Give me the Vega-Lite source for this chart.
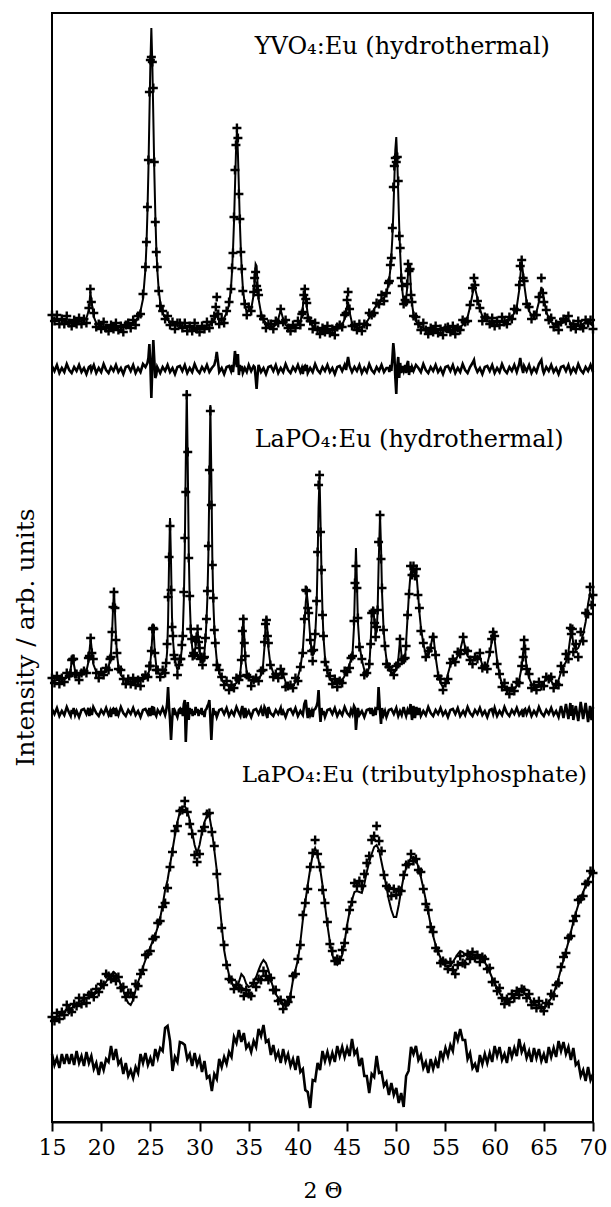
{
"$schema":"https://vega.github.io/schema/vega-lite/v6.json",
"width":541,"height":1109,"autosize":"none",
"padding":{"left":52,"top":13,"right":18,"bottom":85},
"background":"white",
"config":{"view":{"stroke":"black","strokeWidth":2},
"axis":{"labelFont":"DejaVu Serif","titleFont":"DejaVu Serif","labelColor":"black","titleColor":"black","titleFontWeight":"normal","grid":false},
"axisX":{"tickSize":9,"tickWidth":2,"tickColor":"black","domainColor":"black","domainWidth":2,"labelFontSize":22,"titleFontSize":22,"labelPadding":6,"titlePadding":22,"labelFlush":false},
"axisY":{"labels":false,"ticks":false,"domain":false,"titleFontSize":25,"titlePadding":14,"titleY":624}},
"datasets":{
"labels":[{"t":"YVO₄:Eu (hydrothermal)","x":35.6,"y":1075,"g":"a"},{"t":"LaPO₄:Eu (hydrothermal)","x":35.6,"y":682,"g":"a"},{"t":"LaPO₄:Eu (tributylphosphate)","x":34.3,"y":347,"g":"b"}],
"xrd":[
{"p":1,"x":15,"c":804,"o":807,"d":756},{"p":1,"x":15.25,"c":803,"o":801,"d":751},{"p":1,"x":15.5,"c":803,"o":807,"d":757},{"p":1,"x":15.75,"c":802,"o":798,"d":749},{"p":1,"x":16,"c":802,"o":803,"d":754},{"p":1,"x":16.25,"c":801,"o":798,"d":750},{"p":1,"x":16.5,"c":801,"o":806,"d":758},{"p":1,"x":16.75,"c":800,"o":799,"d":752},{"p":1,"x":17,"c":800,"o":796,"d":749},{"p":1,"x":17.25,"c":800,"o":802,"d":755},{"p":1,"x":17.5,"c":800,"o":798,"d":751},{"p":1,"x":17.75,"c":800,"o":804,"d":757},{"p":1,"x":18,"c":801,"o":798,"d":750},{"p":1,"x":18.25,"c":802,"o":803,"d":754},{"p":1,"x":18.5,"c":804,"o":799,"d":748},{"p":1,"x":18.75,"c":812,"o":814,"d":755},{"p":1,"x":18.9,"c":830,"o":833,"d":756},{"p":1,"x":19,"c":822,"o":820,"d":751},{"p":1,"x":19.25,"c":805,"o":809,"d":757},{"p":1,"x":19.5,"c":799,"o":795,"d":749},{"p":1,"x":19.75,"c":797,"o":798,"d":754},{"p":1,"x":20,"c":796,"o":793,"d":750},{"p":1,"x":20.25,"c":795,"o":800,"d":758},{"p":1,"x":20.5,"c":795,"o":794,"d":752},{"p":1,"x":20.75,"c":795,"o":791,"d":749},{"p":1,"x":21,"c":795,"o":797,"d":755},{"p":1,"x":21.25,"c":795,"o":793,"d":751},{"p":1,"x":21.5,"c":795,"o":799,"d":757},{"p":1,"x":21.75,"c":795,"o":792,"d":750},{"p":1,"x":22,"c":795,"o":796,"d":754},{"p":1,"x":22.25,"c":795,"o":790,"d":748},{"p":1,"x":22.5,"c":795,"o":797,"d":755},{"p":1,"x":22.75,"c":796,"o":799,"d":756},{"p":1,"x":23,"c":796,"o":794,"d":751},{"p":1,"x":23.25,"c":798,"o":802,"d":757},{"p":1,"x":23.5,"c":801,"o":797,"d":749},{"p":1,"x":23.75,"c":805,"o":806,"d":754},{"p":1,"x":24,"c":811,"o":808,"d":750},{"p":1,"x":24.25,"c":823,"o":828,"d":758},{"p":1,"x":24.5,"c":853,"o":855,"d":755},{"p":1,"x":24.6,"c":876,"o":880,"d":757},{"p":1,"x":24.7,"c":909,"o":915,"d":759},{"p":1,"x":24.8,"c":951,"o":962,"d":764},{"p":1,"x":24.9,"c":1005,"o":1030,"d":778},{"p":1,"x":25,"c":1058,"o":1062,"d":757},{"p":1,"x":25.1,"c":1094,"o":1065,"d":724},{"p":1,"x":25.2,"c":1058,"o":1060,"d":755},{"p":1,"x":25.3,"c":1005,"o":1034,"d":782},{"p":1,"x":25.4,"c":951,"o":960,"d":762},{"p":1,"x":25.5,"c":909,"o":900,"d":744},{"p":1,"x":25.6,"c":876,"o":870,"d":747},{"p":1,"x":25.7,"c":853,"o":855,"d":755},{"p":1,"x":25.85,"c":832,"o":831,"d":752},{"p":1,"x":26,"c":820,"o":816,"d":749},{"p":1,"x":26.25,"c":809,"o":811,"d":755},{"p":1,"x":26.5,"c":805,"o":803,"d":751},{"p":1,"x":26.75,"c":802,"o":806,"d":757},{"p":1,"x":27,"c":800,"o":797,"d":750},{"p":1,"x":27.25,"c":799,"o":800,"d":754},{"p":1,"x":27.5,"c":798,"o":793,"d":748},{"p":1,"x":27.75,"c":797,"o":799,"d":755},{"p":1,"x":28,"c":796,"o":799,"d":756},{"p":1,"x":28.25,"c":796,"o":794,"d":751},{"p":1,"x":28.5,"c":795,"o":799,"d":757},{"p":1,"x":28.75,"c":795,"o":791,"d":749},{"p":1,"x":29,"c":795,"o":796,"d":754},{"p":1,"x":29.25,"c":794,"o":791,"d":750},{"p":1,"x":29.5,"c":794,"o":799,"d":758},{"p":1,"x":29.75,"c":794,"o":793,"d":752},{"p":1,"x":30,"c":794,"o":790,"d":749},{"p":1,"x":30.25,"c":794,"o":796,"d":755},{"p":1,"x":30.5,"c":795,"o":793,"d":751},{"p":1,"x":30.75,"c":796,"o":800,"d":757},{"p":1,"x":31,"c":797,"o":794,"d":750},{"p":1,"x":31.25,"c":799,"o":800,"d":754},{"p":1,"x":31.5,"c":802,"o":806,"d":757},{"p":1,"x":31.65,"c":805,"o":815,"d":763},{"p":1,"x":31.75,"c":808,"o":825,"d":770},{"p":1,"x":31.9,"c":803,"o":808,"d":758},{"p":1,"x":32,"c":801,"o":798,"d":750},{"p":1,"x":32.25,"c":802,"o":803,"d":754},{"p":1,"x":32.5,"c":804,"o":799,"d":748},{"p":1,"x":32.75,"c":809,"o":811,"d":755},{"p":1,"x":33,"c":817,"o":820,"d":756},{"p":1,"x":33.2,"c":835,"o":833,"d":751},{"p":1,"x":33.3,"c":850,"o":854,"d":757},{"p":1,"x":33.4,"c":872,"o":869,"d":750},{"p":1,"x":33.5,"c":899,"o":905,"d":759},{"p":1,"x":33.6,"c":934,"o":952,"d":771},{"p":1,"x":33.7,"c":969,"o":977,"d":761},{"p":1,"x":33.8,"c":992,"o":994,"d":755},{"p":1,"x":33.9,"c":969,"o":984,"d":768},{"p":1,"x":34,"c":934,"o":928,"d":747},{"p":1,"x":34.1,"c":899,"o":903,"d":757},{"p":1,"x":34.2,"c":872,"o":870,"d":751},{"p":1,"x":34.3,"c":850,"o":853,"d":756},{"p":1,"x":34.4,"c":835,"o":831,"d":749},{"p":1,"x":34.6,"c":817,"o":818,"d":754},{"p":1,"x":34.8,"c":810,"o":807,"d":750},{"p":1,"x":35,"c":811,"o":815,"d":757},{"p":1,"x":35.25,"c":813,"o":811,"d":751},{"p":1,"x":35.5,"c":827,"o":830,"d":756},{"p":1,"x":35.6,"c":842,"o":844,"d":755},{"p":1,"x":35.7,"c":858,"o":850,"d":745},{"p":1,"x":35.8,"c":856,"o":836,"d":733},{"p":1,"x":35.9,"c":838,"o":832,"d":747},{"p":1,"x":36,"c":823,"o":827,"d":757},{"p":1,"x":36.25,"c":809,"o":806,"d":750},{"p":1,"x":36.5,"c":802,"o":803,"d":754},{"p":1,"x":36.75,"c":799,"o":794,"d":748},{"p":1,"x":37,"c":796,"o":798,"d":755},{"p":1,"x":37.25,"c":795,"o":798,"d":756},{"p":1,"x":37.5,"c":795,"o":793,"d":751},{"p":1,"x":37.75,"c":797,"o":801,"d":757},{"p":1,"x":38,"c":803,"o":799,"d":749},{"p":1,"x":38.25,"c":812,"o":813,"d":754},{"p":1,"x":38.5,"c":803,"o":800,"d":750},{"p":1,"x":38.75,"c":797,"o":802,"d":758},{"p":1,"x":39,"c":795,"o":794,"d":752},{"p":1,"x":39.25,"c":795,"o":791,"d":749},{"p":1,"x":39.5,"c":795,"o":797,"d":755},{"p":1,"x":39.75,"c":796,"o":794,"d":751},{"p":1,"x":40,"c":797,"o":801,"d":757},{"p":1,"x":40.25,"c":800,"o":797,"d":750},{"p":1,"x":40.4,"c":807,"o":808,"d":754},{"p":1,"x":40.5,"c":815,"o":810,"d":748},{"p":1,"x":40.6,"c":825,"o":827,"d":755},{"p":1,"x":40.7,"c":830,"o":833,"d":756},{"p":1,"x":40.8,"c":825,"o":823,"d":751},{"p":1,"x":40.9,"c":815,"o":819,"d":757},{"p":1,"x":41,"c":808,"o":804,"d":749},{"p":1,"x":41.25,"c":800,"o":801,"d":754},{"p":1,"x":41.5,"c":796,"o":793,"d":750},{"p":1,"x":41.75,"c":794,"o":799,"d":758},{"p":1,"x":42,"c":793,"o":792,"d":752},{"p":1,"x":42.25,"c":792,"o":788,"d":749},{"p":1,"x":42.5,"c":792,"o":794,"d":755},{"p":1,"x":42.75,"c":792,"o":790,"d":751},{"p":1,"x":43,"c":792,"o":796,"d":757},{"p":1,"x":43.25,"c":792,"o":789,"d":750},{"p":1,"x":43.5,"c":792,"o":793,"d":754},{"p":1,"x":43.75,"c":792,"o":787,"d":748},{"p":1,"x":44,"c":793,"o":795,"d":755},{"p":1,"x":44.25,"c":794,"o":797,"d":756},{"p":1,"x":44.5,"c":797,"o":795,"d":751},{"p":1,"x":44.75,"c":803,"o":807,"d":757},{"p":1,"x":44.9,"c":810,"o":809,"d":752},{"p":1,"x":45,"c":816,"o":822,"d":759},{"p":1,"x":45.1,"c":820,"o":830,"d":765},{"p":1,"x":45.25,"c":810,"o":813,"d":756},{"p":1,"x":45.5,"c":799,"o":796,"d":750},{"p":1,"x":45.75,"c":795,"o":797,"d":755},{"p":1,"x":46,"c":794,"o":792,"d":751},{"p":1,"x":46.25,"c":794,"o":798,"d":757},{"p":1,"x":46.5,"c":795,"o":791,"d":749},{"p":1,"x":46.75,"c":797,"o":798,"d":754},{"p":1,"x":47,"c":800,"o":797,"d":750},{"p":1,"x":47.25,"c":804,"o":809,"d":758},{"p":1,"x":47.5,"c":808,"o":807,"d":752},{"p":1,"x":47.75,"c":813,"o":809,"d":749},{"p":1,"x":48,"c":817,"o":819,"d":755},{"p":1,"x":48.25,"c":820,"o":818,"d":751},{"p":1,"x":48.5,"c":823,"o":827,"d":757},{"p":1,"x":48.75,"c":824,"o":821,"d":750},{"p":1,"x":49,"c":828,"o":829,"d":754},{"p":1,"x":49.2,"c":838,"o":839,"d":754},{"p":1,"x":49.3,"c":844,"o":841,"d":750},{"p":1,"x":49.4,"c":853,"o":857,"d":757},{"p":1,"x":49.5,"c":866,"o":864,"d":751},{"p":1,"x":49.6,"c":884,"o":894,"d":763},{"p":1,"x":49.7,"c":909,"o":935,"d":779},{"p":1,"x":49.8,"c":941,"o":956,"d":768},{"p":1,"x":49.9,"c":972,"o":964,"d":745},{"p":1,"x":50,"c":985,"o":960,"d":728},{"p":1,"x":50.1,"c":962,"o":965,"d":756},{"p":1,"x":50.2,"c":929,"o":941,"d":765},{"p":1,"x":50.3,"c":895,"o":886,"d":744},{"p":1,"x":50.4,"c":868,"o":874,"d":759},{"p":1,"x":50.5,"c":848,"o":844,"d":749},{"p":1,"x":50.6,"c":833,"o":836,"d":756},{"p":1,"x":50.75,"c":820,"o":818,"d":751},{"p":1,"x":50.9,"c":818,"o":822,"d":757},{"p":1,"x":51,"c":824,"o":820,"d":749},{"p":1,"x":51.1,"c":833,"o":838,"d":758},{"p":1,"x":51.2,"c":850,"o":858,"d":761},{"p":1,"x":51.3,"c":857,"o":851,"d":747},{"p":1,"x":51.4,"c":850,"o":853,"d":756},{"p":1,"x":51.5,"c":830,"o":827,"d":750},{"p":1,"x":51.6,"c":818,"o":820,"d":755},{"p":1,"x":51.75,"c":808,"o":806,"d":751},{"p":1,"x":52,"c":801,"o":805,"d":757},{"p":1,"x":52.25,"c":797,"o":798,"d":754},{"p":1,"x":52.5,"c":795,"o":792,"d":750},{"p":1,"x":52.75,"c":794,"o":799,"d":758},{"p":1,"x":53,"c":793,"o":792,"d":752},{"p":1,"x":53.25,"c":792,"o":788,"d":749},{"p":1,"x":53.5,"c":792,"o":794,"d":755},{"p":1,"x":53.75,"c":792,"o":790,"d":751},{"p":1,"x":54,"c":792,"o":796,"d":757},{"p":1,"x":54.25,"c":792,"o":789,"d":750},{"p":1,"x":54.5,"c":792,"o":793,"d":754},{"p":1,"x":54.75,"c":792,"o":787,"d":748},{"p":1,"x":55,"c":792,"o":794,"d":755},{"p":1,"x":55.25,"c":792,"o":795,"d":756},{"p":1,"x":55.5,"c":792,"o":790,"d":751},{"p":1,"x":55.75,"c":792,"o":796,"d":757},{"p":1,"x":56,"c":792,"o":788,"d":749},{"p":1,"x":56.25,"c":793,"o":794,"d":754},{"p":1,"x":56.5,"c":795,"o":792,"d":750},{"p":1,"x":56.75,"c":797,"o":802,"d":758},{"p":1,"x":57,"c":801,"o":800,"d":752},{"p":1,"x":57.25,"c":805,"o":801,"d":749},{"p":1,"x":57.5,"c":815,"o":817,"d":755},{"p":1,"x":57.75,"c":828,"o":834,"d":759},{"p":1,"x":57.9,"c":835,"o":844,"d":762},{"p":1,"x":58,"c":834,"o":837,"d":756},{"p":1,"x":58.25,"c":824,"o":821,"d":750},{"p":1,"x":58.5,"c":813,"o":814,"d":754},{"p":1,"x":58.75,"c":806,"o":801,"d":748},{"p":1,"x":59,"c":803,"o":805,"d":755},{"p":1,"x":59.25,"c":801,"o":804,"d":756},{"p":1,"x":59.5,"c":800,"o":798,"d":751},{"p":1,"x":59.75,"c":800,"o":804,"d":757},{"p":1,"x":60,"c":800,"o":796,"d":749},{"p":1,"x":60.25,"c":800,"o":801,"d":754},{"p":1,"x":60.5,"c":800,"o":797,"d":750},{"p":1,"x":60.75,"c":800,"o":805,"d":758},{"p":1,"x":61,"c":801,"o":800,"d":752},{"p":1,"x":61.25,"c":802,"o":798,"d":749},{"p":1,"x":61.5,"c":803,"o":805,"d":755},{"p":1,"x":61.75,"c":805,"o":803,"d":751},{"p":1,"x":62,"c":809,"o":813,"d":757},{"p":1,"x":62.25,"c":815,"o":812,"d":750},{"p":1,"x":62.5,"c":832,"o":837,"d":758},{"p":1,"x":62.6,"c":845,"o":856,"d":764},{"p":1,"x":62.75,"c":860,"o":862,"d":755},{"p":1,"x":62.9,"c":848,"o":844,"d":749},{"p":1,"x":63,"c":838,"o":841,"d":756},{"p":1,"x":63.25,"c":820,"o":818,"d":751},{"p":1,"x":63.5,"c":811,"o":815,"d":757},{"p":1,"x":63.75,"c":807,"o":803,"d":749},{"p":1,"x":64,"c":806,"o":807,"d":754},{"p":1,"x":64.25,"c":810,"o":807,"d":750},{"p":1,"x":64.5,"c":820,"o":825,"d":758},{"p":1,"x":64.75,"c":835,"o":844,"d":762},{"p":1,"x":64.9,"c":830,"o":829,"d":752},{"p":1,"x":65,"c":824,"o":820,"d":749},{"p":1,"x":65.25,"c":810,"o":812,"d":755},{"p":1,"x":65.5,"c":804,"o":802,"d":751},{"p":1,"x":65.75,"c":800,"o":804,"d":757},{"p":1,"x":66,"c":798,"o":795,"d":750},{"p":1,"x":66.25,"c":797,"o":798,"d":754},{"p":1,"x":66.5,"c":797,"o":792,"d":748},{"p":1,"x":66.75,"c":798,"o":800,"d":755},{"p":1,"x":67,"c":800,"o":803,"d":756},{"p":1,"x":67.25,"c":803,"o":801,"d":751},{"p":1,"x":67.5,"c":802,"o":806,"d":757},{"p":1,"x":67.75,"c":799,"o":795,"d":749},{"p":1,"x":68,"c":797,"o":798,"d":754},{"p":1,"x":68.25,"c":796,"o":793,"d":750},{"p":1,"x":68.5,"c":796,"o":801,"d":758},{"p":1,"x":68.75,"c":797,"o":796,"d":752},{"p":1,"x":69,"c":798,"o":794,"d":749},{"p":1,"x":69.25,"c":800,"o":802,"d":755},{"p":1,"x":69.5,"c":801,"o":799,"d":751},{"p":1,"x":69.75,"c":798,"o":802,"d":757},{"p":1,"x":70,"c":796,"o":793,"d":750},
{"p":2,"x":15,"c":441,"o":444,"d":413},{"p":2,"x":15.25,"c":441,"o":439,"d":408},{"p":2,"x":15.5,"c":442,"o":446,"d":414},{"p":2,"x":15.75,"c":442,"o":438,"d":406},{"p":2,"x":16,"c":443,"o":444,"d":411},{"p":2,"x":16.25,"c":443,"o":440,"d":407},{"p":2,"x":16.5,"c":444,"o":449,"d":415},{"p":2,"x":16.75,"c":447,"o":446,"d":409},{"p":2,"x":16.9,"c":453,"o":449,"d":406},{"p":2,"x":17,"c":460,"o":462,"d":412},{"p":2,"x":17.1,"c":465,"o":463,"d":408},{"p":2,"x":17.2,"c":459,"o":463,"d":414},{"p":2,"x":17.35,"c":451,"o":448,"d":407},{"p":2,"x":17.5,"c":447,"o":448,"d":411},{"p":2,"x":17.75,"c":447,"o":442,"d":405},{"p":2,"x":18,"c":447,"o":449,"d":412},{"p":2,"x":18.25,"c":448,"o":451,"d":413},{"p":2,"x":18.5,"c":451,"o":449,"d":408},{"p":2,"x":18.7,"c":460,"o":464,"d":414},{"p":2,"x":18.8,"c":470,"o":466,"d":406},{"p":2,"x":18.93,"c":483,"o":484,"d":411},{"p":2,"x":19.05,"c":472,"o":469,"d":407},{"p":2,"x":19.2,"c":458,"o":463,"d":415},{"p":2,"x":19.5,"c":450,"o":449,"d":409},{"p":2,"x":19.75,"c":448,"o":444,"d":406},{"p":2,"x":20,"c":448,"o":450,"d":412},{"p":2,"x":20.25,"c":449,"o":447,"d":408},{"p":2,"x":20.5,"c":450,"o":454,"d":414},{"p":2,"x":20.75,"c":455,"o":452,"d":407},{"p":2,"x":20.9,"c":462,"o":463,"d":411},{"p":2,"x":21,"c":470,"o":465,"d":405},{"p":2,"x":21.1,"c":488,"o":490,"d":412},{"p":2,"x":21.2,"c":512,"o":515,"d":413},{"p":2,"x":21.3,"c":532,"o":530,"d":408},{"p":2,"x":21.4,"c":510,"o":514,"d":414},{"p":2,"x":21.5,"c":486,"o":482,"d":406},{"p":2,"x":21.6,"c":468,"o":469,"d":411},{"p":2,"x":21.75,"c":456,"o":453,"d":407},{"p":2,"x":22,"c":447,"o":452,"d":415},{"p":2,"x":22.25,"c":444,"o":443,"d":409},{"p":2,"x":22.5,"c":442,"o":438,"d":406},{"p":2,"x":22.75,"c":441,"o":443,"d":412},{"p":2,"x":23,"c":440,"o":438,"d":408},{"p":2,"x":23.25,"c":440,"o":444,"d":414},{"p":2,"x":23.5,"c":440,"o":437,"d":407},{"p":2,"x":23.75,"c":441,"o":442,"d":411},{"p":2,"x":24,"c":441,"o":436,"d":405},{"p":2,"x":24.25,"c":442,"o":444,"d":412},{"p":2,"x":24.5,"c":444,"o":447,"d":413},{"p":2,"x":24.75,"c":447,"o":445,"d":408},{"p":2,"x":24.9,"c":452,"o":456,"d":414},{"p":2,"x":25,"c":460,"o":456,"d":406},{"p":2,"x":25.1,"c":470,"o":471,"d":411},{"p":2,"x":25.2,"c":487,"o":493,"d":416},{"p":2,"x":25.27,"c":497,"o":494,"d":407},{"p":2,"x":25.35,"c":488,"o":493,"d":415},{"p":2,"x":25.45,"c":470,"o":469,"d":409},{"p":2,"x":25.6,"c":456,"o":452,"d":406},{"p":2,"x":25.75,"c":450,"o":452,"d":412},{"p":2,"x":26,"c":447,"o":445,"d":408},{"p":2,"x":26.25,"c":448,"o":452,"d":414},{"p":2,"x":26.5,"c":452,"o":449,"d":407},{"p":2,"x":26.6,"c":458,"o":459,"d":411},{"p":2,"x":26.7,"c":470,"o":478,"d":418},{"p":2,"x":26.8,"c":500,"o":525,"d":435},{"p":2,"x":26.9,"c":560,"o":565,"d":415},{"p":2,"x":27,"c":604,"o":596,"d":402},{"p":2,"x":27.1,"c":560,"o":532,"d":382},{"p":2,"x":27.2,"c":505,"o":495,"d":400},{"p":2,"x":27.3,"c":482,"o":486,"d":414},{"p":2,"x":27.4,"c":470,"o":467,"d":407},{"p":2,"x":27.5,"c":462,"o":463,"d":411},{"p":2,"x":27.75,"c":452,"o":447,"d":405},{"p":2,"x":27.9,"c":455,"o":457,"d":412},{"p":2,"x":28,"c":460,"o":463,"d":413},{"p":2,"x":28.1,"c":465,"o":463,"d":408},{"p":2,"x":28.2,"c":473,"o":477,"d":414},{"p":2,"x":28.3,"c":490,"o":486,"d":406},{"p":2,"x":28.4,"c":522,"o":530,"d":418},{"p":2,"x":28.5,"c":572,"o":584,"d":422},{"p":2,"x":28.6,"c":660,"o":630,"d":380},{"p":2,"x":28.7,"c":732,"o":727,"d":405},{"p":2,"x":28.8,"c":660,"o":670,"d":420},{"p":2,"x":28.9,"c":572,"o":564,"d":402},{"p":2,"x":29,"c":522,"o":526,"d":414},{"p":2,"x":29.1,"c":495,"o":493,"d":408},{"p":2,"x":29.2,"c":480,"o":483,"d":413},{"p":2,"x":29.3,"c":470,"o":466,"d":406},{"p":2,"x":29.4,"c":468,"o":469,"d":411},{"p":2,"x":29.5,"c":470,"o":467,"d":407},{"p":2,"x":29.6,"c":476,"o":481,"d":415},{"p":2,"x":29.7,"c":486,"o":485,"d":409},{"p":2,"x":29.8,"c":490,"o":493,"d":413},{"p":2,"x":29.9,"c":484,"o":480,"d":406},{"p":2,"x":30,"c":472,"o":474,"d":412},{"p":2,"x":30.1,"c":465,"o":463,"d":408},{"p":2,"x":30.2,"c":461,"o":465,"d":414},{"p":2,"x":30.3,"c":460,"o":457,"d":407},{"p":2,"x":30.4,"c":463,"o":464,"d":411},{"p":2,"x":30.5,"c":470,"o":465,"d":405},{"p":2,"x":30.6,"c":482,"o":484,"d":412},{"p":2,"x":30.7,"c":500,"o":503,"d":413},{"p":2,"x":30.8,"c":525,"o":531,"d":416},{"p":2,"x":30.9,"c":568,"o":576,"d":418},{"p":2,"x":31,"c":640,"o":652,"d":422},{"p":2,"x":31.1,"c":717,"o":711,"d":404},{"p":2,"x":31.2,"c":645,"o":617,"d":382},{"p":2,"x":31.3,"c":565,"o":557,"d":402},{"p":2,"x":31.4,"c":520,"o":524,"d":414},{"p":2,"x":31.5,"c":495,"o":492,"d":407},{"p":2,"x":31.6,"c":478,"o":479,"d":411},{"p":2,"x":31.75,"c":462,"o":457,"d":405},{"p":2,"x":32,"c":450,"o":452,"d":412},{"p":2,"x":32.25,"c":442,"o":445,"d":413},{"p":2,"x":32.5,"c":439,"o":437,"d":408},{"p":2,"x":32.75,"c":437,"o":441,"d":414},{"p":2,"x":33,"c":436,"o":432,"d":406},{"p":2,"x":33.25,"c":436,"o":437,"d":411},{"p":2,"x":33.5,"c":437,"o":434,"d":407},{"p":2,"x":33.75,"c":439,"o":444,"d":415},{"p":2,"x":34,"c":443,"o":442,"d":409},{"p":2,"x":34.15,"c":450,"o":446,"d":406},{"p":2,"x":34.25,"c":460,"o":462,"d":412},{"p":2,"x":34.35,"c":485,"o":491,"d":416},{"p":2,"x":34.45,"c":505,"o":503,"d":408},{"p":2,"x":34.55,"c":485,"o":479,"d":404},{"p":2,"x":34.65,"c":462,"o":466,"d":414},{"p":2,"x":34.8,"c":450,"o":447,"d":407},{"p":2,"x":35,"c":444,"o":445,"d":411},{"p":2,"x":35.25,"c":441,"o":436,"d":405},{"p":2,"x":35.5,"c":440,"o":442,"d":412},{"p":2,"x":35.75,"c":441,"o":444,"d":413},{"p":2,"x":36,"c":443,"o":441,"d":408},{"p":2,"x":36.25,"c":447,"o":451,"d":414},{"p":2,"x":36.45,"c":456,"o":452,"d":406},{"p":2,"x":36.6,"c":475,"o":480,"d":415},{"p":2,"x":36.7,"c":495,"o":498,"d":413},{"p":2,"x":36.8,"c":505,"o":502,"d":407},{"p":2,"x":36.9,"c":492,"o":486,"d":404},{"p":2,"x":37,"c":474,"o":479,"d":415},{"p":2,"x":37.2,"c":458,"o":457,"d":409},{"p":2,"x":37.5,"c":449,"o":445,"d":406},{"p":2,"x":37.75,"c":446,"o":448,"d":412},{"p":2,"x":38,"c":446,"o":444,"d":408},{"p":2,"x":38.25,"c":449,"o":453,"d":414},{"p":2,"x":38.35,"c":451,"o":448,"d":407},{"p":2,"x":38.5,"c":447,"o":448,"d":411},{"p":2,"x":38.75,"c":440,"o":435,"d":405},{"p":2,"x":39,"c":434,"o":436,"d":412},{"p":2,"x":39.25,"c":434,"o":437,"d":413},{"p":2,"x":39.5,"c":436,"o":434,"d":408},{"p":2,"x":39.75,"c":440,"o":444,"d":414},{"p":2,"x":40,"c":445,"o":441,"d":406},{"p":2,"x":40.25,"c":454,"o":455,"d":411},{"p":2,"x":40.5,"c":472,"o":469,"d":407},{"p":2,"x":40.65,"c":495,"o":503,"d":418},{"p":2,"x":40.8,"c":520,"o":532,"d":422},{"p":2,"x":40.9,"c":529,"o":531,"d":412},{"p":2,"x":41,"c":520,"o":514,"d":404},{"p":2,"x":41.1,"c":505,"o":509,"d":414},{"p":2,"x":41.25,"c":485,"o":482,"d":407},{"p":2,"x":41.4,"c":470,"o":471,"d":411},{"p":2,"x":41.5,"c":466,"o":461,"d":405},{"p":2,"x":41.6,"c":470,"o":472,"d":412},{"p":2,"x":41.75,"c":485,"o":488,"d":413},{"p":2,"x":41.9,"c":515,"o":521,"d":416},{"p":2,"x":42,"c":560,"o":570,"d":420},{"p":2,"x":42.1,"c":615,"o":637,"d":432},{"p":2,"x":42.2,"c":645,"o":647,"d":412},{"p":2,"x":42.3,"c":600,"o":590,"d":400},{"p":2,"x":42.4,"c":548,"o":552,"d":414},{"p":2,"x":42.5,"c":510,"o":507,"d":407},{"p":2,"x":42.6,"c":485,"o":486,"d":411},{"p":2,"x":42.75,"c":465,"o":460,"d":405},{"p":2,"x":43,"c":450,"o":452,"d":412},{"p":2,"x":43.25,"c":443,"o":446,"d":413},{"p":2,"x":43.5,"c":440,"o":438,"d":408},{"p":2,"x":43.75,"c":439,"o":443,"d":414},{"p":2,"x":44,"c":439,"o":435,"d":406},{"p":2,"x":44.25,"c":440,"o":441,"d":411},{"p":2,"x":44.5,"c":442,"o":439,"d":407},{"p":2,"x":44.75,"c":446,"o":451,"d":415},{"p":2,"x":45,"c":451,"o":450,"d":409},{"p":2,"x":45.25,"c":458,"o":454,"d":406},{"p":2,"x":45.4,"c":462,"o":464,"d":412},{"p":2,"x":45.55,"c":468,"o":466,"d":408},{"p":2,"x":45.7,"c":495,"o":501,"d":416},{"p":2,"x":45.8,"c":535,"o":539,"d":414},{"p":2,"x":45.9,"c":574,"o":556,"d":392},{"p":2,"x":46,"c":540,"o":534,"d":404},{"p":2,"x":46.1,"c":500,"o":504,"d":414},{"p":2,"x":46.25,"c":478,"o":475,"d":407},{"p":2,"x":46.5,"c":462,"o":463,"d":411},{"p":2,"x":46.75,"c":452,"o":447,"d":405},{"p":2,"x":47,"c":447,"o":449,"d":412},{"p":2,"x":47.25,"c":455,"o":458,"d":413},{"p":2,"x":47.4,"c":480,"o":478,"d":408},{"p":2,"x":47.5,"c":505,"o":509,"d":414},{"p":2,"x":47.65,"c":515,"o":511,"d":406},{"p":2,"x":47.8,"c":498,"o":499,"d":411},{"p":2,"x":47.9,"c":488,"o":485,"d":407},{"p":2,"x":48,"c":490,"o":495,"d":415},{"p":2,"x":48.1,"c":510,"o":512,"d":412},{"p":2,"x":48.2,"c":555,"o":580,"d":435},{"p":2,"x":48.35,"c":607,"o":607,"d":410},{"p":2,"x":48.45,"c":575,"o":563,"d":398},{"p":2,"x":48.55,"c":530,"o":534,"d":414},{"p":2,"x":48.7,"c":495,"o":492,"d":407},{"p":2,"x":48.85,"c":475,"o":476,"d":411},{"p":2,"x":49,"c":463,"o":458,"d":405},{"p":2,"x":49.25,"c":453,"o":455,"d":412},{"p":2,"x":49.5,"c":449,"o":452,"d":413},{"p":2,"x":49.75,"c":449,"o":447,"d":408},{"p":2,"x":50,"c":452,"o":456,"d":414},{"p":2,"x":50.2,"c":462,"o":458,"d":406},{"p":2,"x":50.38,"c":482,"o":483,"d":411},{"p":2,"x":50.55,"c":465,"o":462,"d":407},{"p":2,"x":50.75,"c":458,"o":463,"d":415},{"p":2,"x":50.9,"c":465,"o":464,"d":409},{"p":2,"x":51,"c":480,"o":476,"d":406},{"p":2,"x":51.15,"c":505,"o":507,"d":412},{"p":2,"x":51.3,"c":530,"o":528,"d":408},{"p":2,"x":51.45,"c":548,"o":556,"d":418},{"p":2,"x":51.6,"c":555,"o":547,"d":402},{"p":2,"x":51.75,"c":550,"o":556,"d":416},{"p":2,"x":51.9,"c":552,"o":546,"d":404},{"p":2,"x":52.05,"c":548,"o":553,"d":415},{"p":2,"x":52.2,"c":530,"o":527,"d":407},{"p":2,"x":52.35,"c":510,"o":514,"d":414},{"p":2,"x":52.5,"c":495,"o":491,"d":406},{"p":2,"x":52.75,"c":478,"o":479,"d":411},{"p":2,"x":53,"c":468,"o":465,"d":407},{"p":2,"x":53.25,"c":466,"o":471,"d":415},{"p":2,"x":53.5,"c":475,"o":474,"d":409},{"p":2,"x":53.75,"c":489,"o":485,"d":406},{"p":2,"x":54,"c":465,"o":467,"d":412},{"p":2,"x":54.25,"c":448,"o":446,"d":408},{"p":2,"x":54.5,"c":439,"o":443,"d":414},{"p":2,"x":54.75,"c":435,"o":432,"d":407},{"p":2,"x":55,"c":438,"o":439,"d":411},{"p":2,"x":55.25,"c":448,"o":443,"d":405},{"p":2,"x":55.5,"c":457,"o":459,"d":412},{"p":2,"x":55.75,"c":460,"o":463,"d":413},{"p":2,"x":56,"c":462,"o":460,"d":408},{"p":2,"x":56.25,"c":466,"o":470,"d":414},{"p":2,"x":56.5,"c":472,"o":468,"d":406},{"p":2,"x":56.8,"c":484,"o":485,"d":411},{"p":2,"x":57,"c":475,"o":472,"d":407},{"p":2,"x":57.25,"c":466,"o":471,"d":415},{"p":2,"x":57.5,"c":463,"o":462,"d":409},{"p":2,"x":57.75,"c":462,"o":458,"d":406},{"p":2,"x":58,"c":463,"o":465,"d":412},{"p":2,"x":58.25,"c":465,"o":463,"d":408},{"p":2,"x":58.5,"c":465,"o":469,"d":414},{"p":2,"x":58.75,"c":457,"o":454,"d":407},{"p":2,"x":59,"c":455,"o":456,"d":411},{"p":2,"x":59.25,"c":458,"o":453,"d":405},{"p":2,"x":59.5,"c":468,"o":470,"d":412},{"p":2,"x":59.7,"c":480,"o":483,"d":413},{"p":2,"x":59.85,"c":492,"o":490,"d":408},{"p":2,"x":60,"c":482,"o":486,"d":414},{"p":2,"x":60.25,"c":462,"o":458,"d":406},{"p":2,"x":60.5,"c":447,"o":448,"d":411},{"p":2,"x":60.75,"c":438,"o":435,"d":407},{"p":2,"x":61,"c":434,"o":439,"d":415},{"p":2,"x":61.25,"c":433,"o":432,"d":409},{"p":2,"x":61.5,"c":432,"o":428,"d":406},{"p":2,"x":61.75,"c":432,"o":434,"d":412},{"p":2,"x":62,"c":433,"o":431,"d":408},{"p":2,"x":62.25,"c":436,"o":440,"d":414},{"p":2,"x":62.5,"c":442,"o":439,"d":407},{"p":2,"x":62.75,"c":455,"o":456,"d":411},{"p":2,"x":62.9,"c":470,"o":465,"d":405},{"p":2,"x":63,"c":480,"o":482,"d":412},{"p":2,"x":63.1,"c":470,"o":473,"d":413},{"p":2,"x":63.25,"c":455,"o":453,"d":408},{"p":2,"x":63.5,"c":444,"o":448,"d":414},{"p":2,"x":63.75,"c":438,"o":434,"d":406},{"p":2,"x":64,"c":436,"o":437,"d":411},{"p":2,"x":64.25,"c":435,"o":432,"d":407},{"p":2,"x":64.5,"c":435,"o":440,"d":415},{"p":2,"x":64.75,"c":437,"o":436,"d":409},{"p":2,"x":65,"c":440,"o":436,"d":406},{"p":2,"x":65.25,"c":443,"o":445,"d":412},{"p":2,"x":65.5,"c":445,"o":443,"d":408},{"p":2,"x":65.75,"c":441,"o":445,"d":414},{"p":2,"x":66,"c":437,"o":434,"d":407},{"p":2,"x":66.25,"c":437,"o":438,"d":411},{"p":2,"x":66.5,"c":442,"o":437,"d":405},{"p":2,"x":66.75,"c":450,"o":456,"d":416},{"p":2,"x":67,"c":456,"o":450,"d":404},{"p":2,"x":67.25,"c":460,"o":468,"d":418},{"p":2,"x":67.5,"c":470,"o":463,"d":403},{"p":2,"x":67.7,"c":485,"o":494,"d":419},{"p":2,"x":67.8,"c":492,"o":488,"d":406},{"p":2,"x":67.9,"c":486,"o":493,"d":417},{"p":2,"x":68,"c":478,"o":470,"d":402},{"p":2,"x":68.25,"c":472,"o":478,"d":416},{"p":2,"x":68.5,"c":474,"o":465,"d":401},{"p":2,"x":68.75,"c":480,"o":490,"d":420},{"p":2,"x":69,"c":488,"o":481,"d":403},{"p":2,"x":69.25,"c":500,"o":509,"d":419},{"p":2,"x":69.5,"c":518,"o":508,"d":400},{"p":2,"x":69.7,"c":529,"o":535,"d":416},{"p":2,"x":69.85,"c":525,"o":517,"d":402},{"p":2,"x":70,"c":522,"o":527,"d":415},
{"p":3,"x":15,"c":102,"o":105,"d":68},{"p":3,"x":15.25,"c":103,"o":101,"d":57},{"p":3,"x":15.5,"c":105,"o":109,"d":64},{"p":3,"x":15.75,"c":107,"o":103,"d":54},{"p":3,"x":16,"c":109,"o":110,"d":68},{"p":3,"x":16.25,"c":110,"o":107,"d":58},{"p":3,"x":16.5,"c":112,"o":117,"d":68},{"p":3,"x":16.75,"c":113,"o":112,"d":58},{"p":3,"x":17,"c":114,"o":110,"d":68},{"p":3,"x":17.25,"c":116,"o":118,"d":57},{"p":3,"x":17.5,"c":118,"o":116,"d":71},{"p":3,"x":17.75,"c":120,"o":124,"d":59},{"p":3,"x":18,"c":121,"o":118,"d":66},{"p":3,"x":18.25,"c":123,"o":124,"d":56},{"p":3,"x":18.5,"c":124,"o":119,"d":70},{"p":3,"x":18.75,"c":125,"o":127,"d":59},{"p":3,"x":19,"c":126,"o":129,"d":66},{"p":3,"x":19.25,"c":127,"o":125,"d":53},{"p":3,"x":19.5,"c":129,"o":133,"d":59},{"p":3,"x":19.75,"c":131,"o":130,"d":47},{"p":3,"x":20,"c":134,"o":138,"d":60},{"p":3,"x":20.25,"c":137,"o":137,"d":52},{"p":3,"x":20.5,"c":140,"o":148,"d":63},{"p":3,"x":20.75,"c":144,"o":146,"d":60},{"p":3,"x":21,"c":147,"o":143,"d":76},{"p":3,"x":21.25,"c":150,"o":146,"d":62},{"p":3,"x":21.5,"c":148,"o":141,"d":73},{"p":3,"x":21.75,"c":143,"o":145,"d":58},{"p":3,"x":22,"c":137,"o":134,"d":62},{"p":3,"x":22.25,"c":131,"o":135,"d":48},{"p":3,"x":22.5,"c":124,"o":125,"d":59},{"p":3,"x":22.75,"c":119,"o":129,"d":46},{"p":3,"x":23,"c":117,"o":129,"d":52},{"p":3,"x":23.25,"c":122,"o":125,"d":44},{"p":3,"x":23.5,"c":132,"o":138,"d":55},{"p":3,"x":23.75,"c":140,"o":136,"d":49},{"p":3,"x":24,"c":147,"o":148,"d":68},{"p":3,"x":24.25,"c":155,"o":152,"d":59},{"p":3,"x":24.5,"c":162,"o":167,"d":69},{"p":3,"x":24.75,"c":169,"o":168,"d":57},{"p":3,"x":25,"c":175,"o":171,"d":64},{"p":3,"x":25.25,"c":181,"o":183,"d":56},{"p":3,"x":25.5,"c":187,"o":185,"d":73},{"p":3,"x":25.75,"c":195,"o":199,"d":64},{"p":3,"x":26,"c":204,"o":201,"d":74},{"p":3,"x":26.25,"c":217,"o":215,"d":71},{"p":3,"x":26.5,"c":232,"o":219,"d":94},{"p":3,"x":26.75,"c":242,"o":234,"d":96},{"p":3,"x":27,"c":257,"o":255,"d":81},{"p":3,"x":27.25,"c":272,"o":270,"d":51},{"p":3,"x":27.5,"c":287,"o":291,"d":65},{"p":3,"x":27.75,"c":300,"o":296,"d":60},{"p":3,"x":28,"c":310,"o":311,"d":80},{"p":3,"x":28.25,"c":315,"o":312,"d":79},{"p":3,"x":28.5,"c":316,"o":321,"d":77},{"p":3,"x":28.75,"c":311,"o":310,"d":63},{"p":3,"x":29,"c":302,"o":298,"d":68},{"p":3,"x":29.25,"c":290,"o":288,"d":56},{"p":3,"x":29.5,"c":277,"o":267,"d":69},{"p":3,"x":29.75,"c":269,"o":260,"d":57},{"p":3,"x":30,"c":277,"o":268,"d":64},{"p":3,"x":30.25,"c":290,"o":291,"d":50},{"p":3,"x":30.5,"c":300,"o":295,"d":61},{"p":3,"x":30.75,"c":306,"o":308,"d":44},{"p":3,"x":31,"c":306,"o":309,"d":46},{"p":3,"x":31.25,"c":292,"o":290,"d":31},{"p":3,"x":31.5,"c":272,"o":276,"d":48},{"p":3,"x":31.75,"c":252,"o":248,"d":43},{"p":3,"x":32,"c":222,"o":223,"d":63},{"p":3,"x":32.25,"c":197,"o":194,"d":55},{"p":3,"x":32.5,"c":172,"o":177,"d":65},{"p":3,"x":32.75,"c":158,"o":157,"d":58},{"p":3,"x":33,"c":147,"o":143,"d":70},{"p":3,"x":33.25,"c":140,"o":142,"d":65},{"p":3,"x":33.5,"c":135,"o":133,"d":85},{"p":3,"x":33.75,"c":136,"o":137,"d":79},{"p":3,"x":34,"c":140,"o":134,"d":92},{"p":3,"x":34.25,"c":148,"o":133,"d":80},{"p":3,"x":34.5,"c":145,"o":126,"d":89},{"p":3,"x":34.75,"c":138,"o":132,"d":74},{"p":3,"x":35,"c":135,"o":128,"d":78},{"p":3,"x":35.25,"c":136,"o":126,"d":70},{"p":3,"x":35.5,"c":140,"o":139,"d":81},{"p":3,"x":35.75,"c":145,"o":135,"d":75},{"p":3,"x":36,"c":152,"o":143,"d":93},{"p":3,"x":36.25,"c":158,"o":142,"d":86},{"p":3,"x":36.5,"c":162,"o":151,"d":97},{"p":3,"x":36.75,"c":159,"o":146,"d":80},{"p":3,"x":37,"c":152,"o":142,"d":82},{"p":3,"x":37.25,"c":142,"o":144,"d":67},{"p":3,"x":37.5,"c":134,"o":132,"d":77},{"p":3,"x":37.75,"c":128,"o":132,"d":64},{"p":3,"x":38,"c":124,"o":121,"d":70},{"p":3,"x":38.25,"c":121,"o":122,"d":59},{"p":3,"x":38.5,"c":118,"o":113,"d":73},{"p":3,"x":38.75,"c":116,"o":118,"d":61},{"p":3,"x":39,"c":117,"o":120,"d":68},{"p":3,"x":39.25,"c":127,"o":125,"d":56},{"p":3,"x":39.5,"c":142,"o":146,"d":63},{"p":3,"x":39.75,"c":152,"o":148,"d":52},{"p":3,"x":40,"c":162,"o":163,"d":66},{"p":3,"x":40.25,"c":180,"o":177,"d":50},{"p":3,"x":40.5,"c":202,"o":207,"d":53},{"p":3,"x":40.75,"c":220,"o":219,"d":32},{"p":3,"x":41,"c":237,"o":233,"d":30},{"p":3,"x":41.25,"c":253,"o":255,"d":14},{"p":3,"x":41.5,"c":267,"o":269,"d":42},{"p":3,"x":41.75,"c":274,"o":282,"d":41},{"p":3,"x":42,"c":267,"o":268,"d":59},{"p":3,"x":42.25,"c":254,"o":255,"d":52},{"p":3,"x":42.5,"c":237,"o":232,"d":71},{"p":3,"x":42.75,"c":217,"o":219,"d":61},{"p":3,"x":43,"c":197,"o":200,"d":70},{"p":3,"x":43.25,"c":180,"o":178,"d":60},{"p":3,"x":43.5,"c":167,"o":171,"d":69},{"p":3,"x":43.75,"c":160,"o":161,"d":60},{"p":3,"x":44,"c":157,"o":163,"d":76},{"p":3,"x":44.25,"c":160,"o":162,"d":66},{"p":3,"x":44.5,"c":167,"o":172,"d":75},{"p":3,"x":44.75,"c":180,"o":179,"d":65},{"p":3,"x":45,"c":197,"o":193,"d":74},{"p":3,"x":45.25,"c":210,"o":212,"d":66},{"p":3,"x":45.5,"c":222,"o":220,"d":83},{"p":3,"x":45.75,"c":230,"o":239,"d":68},{"p":3,"x":46,"c":231,"o":236,"d":72},{"p":3,"x":46.25,"c":230,"o":241,"d":56},{"p":3,"x":46.5,"c":229,"o":236,"d":64},{"p":3,"x":46.75,"c":238,"o":248,"d":46},{"p":3,"x":47,"c":250,"o":259,"d":46},{"p":3,"x":47.25,"c":260,"o":266,"d":29},{"p":3,"x":47.5,"c":268,"o":282,"d":48},{"p":3,"x":47.75,"c":275,"o":286,"d":45},{"p":3,"x":48,"c":277,"o":296,"d":66},{"p":3,"x":48.25,"c":272,"o":281,"d":49},{"p":3,"x":48.5,"c":260,"o":271,"d":50},{"p":3,"x":48.75,"c":248,"o":247,"d":36},{"p":3,"x":49,"c":235,"o":236,"d":40},{"p":3,"x":49.25,"c":222,"o":234,"d":27},{"p":3,"x":49.5,"c":212,"o":226,"d":39},{"p":3,"x":49.75,"c":205,"o":233,"d":27},{"p":3,"x":50,"c":205,"o":227,"d":34},{"p":3,"x":50.25,"c":217,"o":232,"d":19},{"p":3,"x":50.5,"c":232,"o":231,"d":29},{"p":3,"x":50.75,"c":245,"o":247,"d":15},{"p":3,"x":51,"c":254,"o":257,"d":46},{"p":3,"x":51.25,"c":260,"o":258,"d":51},{"p":3,"x":51.5,"c":264,"o":268,"d":75},{"p":3,"x":51.75,"c":265,"o":261,"d":68},{"p":3,"x":52,"c":262,"o":263,"d":76},{"p":3,"x":52.25,"c":255,"o":252,"d":62},{"p":3,"x":52.5,"c":245,"o":250,"d":67},{"p":3,"x":52.75,"c":234,"o":233,"d":54},{"p":3,"x":53,"c":222,"o":218,"d":60},{"p":3,"x":53.25,"c":210,"o":212,"d":49},{"p":3,"x":53.5,"c":197,"o":195,"d":63},{"p":3,"x":53.75,"c":186,"o":190,"d":53},{"p":3,"x":54,"c":177,"o":174,"d":62},{"p":3,"x":54.25,"c":170,"o":171,"d":54},{"p":3,"x":54.5,"c":164,"o":159,"d":71},{"p":3,"x":54.75,"c":159,"o":161,"d":63},{"p":3,"x":55,"c":156,"o":159,"d":74},{"p":3,"x":55.25,"c":155,"o":153,"d":66},{"p":3,"x":55.5,"c":156,"o":160,"d":77},{"p":3,"x":55.75,"c":160,"o":152,"d":71},{"p":3,"x":56,"c":164,"o":148,"d":90},{"p":3,"x":56.25,"c":168,"o":157,"d":82},{"p":3,"x":56.5,"c":171,"o":166,"d":93},{"p":3,"x":56.75,"c":170,"o":159,"d":82},{"p":3,"x":57,"c":167,"o":158,"d":82},{"p":3,"x":57.25,"c":166,"o":168,"d":63},{"p":3,"x":57.5,"c":165,"o":163,"d":69},{"p":3,"x":57.75,"c":166,"o":170,"d":54},{"p":3,"x":58,"c":167,"o":164,"d":58},{"p":3,"x":58.25,"c":166,"o":167,"d":50},{"p":3,"x":58.5,"c":165,"o":160,"d":67},{"p":3,"x":58.75,"c":163,"o":165,"d":58},{"p":3,"x":59,"c":160,"o":163,"d":68},{"p":3,"x":59.25,"c":155,"o":153,"d":59},{"p":3,"x":59.5,"c":150,"o":154,"d":69},{"p":3,"x":59.75,"c":144,"o":140,"d":60},{"p":3,"x":60,"c":139,"o":140,"d":76},{"p":3,"x":60.25,"c":134,"o":131,"d":66},{"p":3,"x":60.5,"c":129,"o":134,"d":75},{"p":3,"x":60.75,"c":125,"o":124,"d":62},{"p":3,"x":61,"c":122,"o":118,"d":68},{"p":3,"x":61.25,"c":121,"o":123,"d":59},{"p":3,"x":61.5,"c":122,"o":120,"d":75},{"p":3,"x":61.75,"c":124,"o":128,"d":65},{"p":3,"x":62,"c":127,"o":124,"d":74},{"p":3,"x":62.25,"c":130,"o":131,"d":66},{"p":3,"x":62.5,"c":132,"o":127,"d":83},{"p":3,"x":62.75,"c":131,"o":133,"d":70},{"p":3,"x":63,"c":129,"o":132,"d":76},{"p":3,"x":63.25,"c":126,"o":124,"d":64},{"p":3,"x":63.5,"c":124,"o":128,"d":71},{"p":3,"x":63.75,"c":121,"o":117,"d":60},{"p":3,"x":64,"c":119,"o":120,"d":74},{"p":3,"x":64.25,"c":117,"o":114,"d":64},{"p":3,"x":64.5,"c":116,"o":121,"d":73},{"p":3,"x":64.75,"c":115,"o":114,"d":61},{"p":3,"x":65,"c":115,"o":111,"d":68},{"p":3,"x":65.25,"c":117,"o":119,"d":59},{"p":3,"x":65.5,"c":120,"o":118,"d":75},{"p":3,"x":65.75,"c":124,"o":128,"d":65},{"p":3,"x":66,"c":129,"o":126,"d":74},{"p":3,"x":66.25,"c":136,"o":137,"d":65},{"p":3,"x":66.5,"c":144,"o":139,"d":81},{"p":3,"x":66.75,"c":153,"o":155,"d":71},{"p":3,"x":67,"c":162,"o":165,"d":80},{"p":3,"x":67.25,"c":171,"o":169,"d":68},{"p":3,"x":67.5,"c":180,"o":184,"d":75},{"p":3,"x":67.75,"c":190,"o":186,"d":62},{"p":3,"x":68,"c":200,"o":201,"d":74},{"p":3,"x":68.25,"c":209,"o":206,"d":57},{"p":3,"x":68.5,"c":217,"o":222,"d":60},{"p":3,"x":68.75,"c":224,"o":223,"d":46},{"p":3,"x":69,"c":230,"o":226,"d":52},{"p":3,"x":69.25,"c":236,"o":238,"d":41},{"p":3,"x":69.5,"c":242,"o":240,"d":55},{"p":3,"x":69.75,"c":247,"o":251,"d":42},{"p":3,"x":70,"c":252,"o":249,"d":48}
]},
"encoding":{"x":{"field":"x","type":"quantitative","scale":{"domain":[15,70],"nice":false,"zero":false},"axis":{"values":[15,20,25,30,35,40,45,50,55,60,65,70],"title":"2 Θ"}}},
"layer":[
{"data":{"name":"xrd"},"mark":{"type":"line","color":"black","strokeWidth":2},"encoding":{"y":{"field":"c","type":"quantitative","scale":{"domain":[0,1109],"nice":false,"zero":false},"axis":{"title":"Intensity / arb. units"}},"detail":{"field":"p"}}},
{"data":{"name":"xrd"},"mark":{"type":"point","shape":"M-1,0L1,0M0,-1L0,1","filled":false,"color":"black","strokeWidth":2.4,"size":81,"opacity":1},"encoding":{"y":{"field":"o","type":"quantitative","scale":{"domain":[0,1109],"nice":false,"zero":false},"axis":{"title":"Intensity / arb. units"}}}},
{"data":{"name":"xrd"},"mark":{"type":"line","color":"black","strokeWidth":2.6},"encoding":{"y":{"field":"d","type":"quantitative","scale":{"domain":[0,1109],"nice":false,"zero":false},"axis":{"title":"Intensity / arb. units"}},"detail":{"field":"p"}}},
{"data":{"name":"labels"},"transform":[{"filter":"datum.g == 'a'"}],"mark":{"type":"text","font":"DejaVu Serif","fontSize":24,"align":"left","baseline":"middle","color":"black"},"encoding":{"y":{"field":"y","type":"quantitative","scale":{"domain":[0,1109],"nice":false,"zero":false},"axis":{"title":"Intensity / arb. units"}},"text":{"field":"t"}}},
{"data":{"name":"labels"},"transform":[{"filter":"datum.g == 'b'"}],"mark":{"type":"text","font":"DejaVu Serif","fontSize":23,"align":"left","baseline":"middle","color":"black"},"encoding":{"y":{"field":"y","type":"quantitative","scale":{"domain":[0,1109],"nice":false,"zero":false},"axis":{"title":"Intensity / arb. units"}},"text":{"field":"t"}}}
]
}
